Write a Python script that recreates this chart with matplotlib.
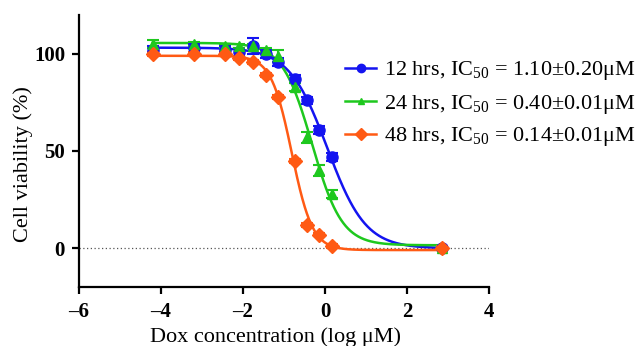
import numpy as np
import matplotlib
matplotlib.use("Agg")
import matplotlib.pyplot as plt
from matplotlib.lines import Line2D

# ---- data ----
log_conc = [-4.2, -3.2, -2.45, -2.1, -1.75, -1.45, -1.15, -0.73, -0.43, -0.14, 0.16, 2.85]
viab_12h = [102, 103, 102, 101, 104, 100, 96, 87, 76, 61, 47, 0]
err_12h = [2, 2, 2, 2, 4, 2, 2, 2, 2, 2, 2, 1]
viab_24h = [105, 105, 104, 104, 104, 102, 99, 83, 57, 40, 28, 0]
err_24h = [2, 1, 1, 1, 1, 1, 3, 2, 3, 3, 2, 1]
viab_48h = [100, 100, 100, 98, 96, 89, 78, 45, 12, 7, 1, 0]
err_48h = [1, 1, 1, 1, 1, 1, 1, 1, 1, 1, 1, 1]
labels = [r"12 hrs, IC$_{50}$ = 1.10±0.20μM",
          r"24 hrs, IC$_{50}$ = 0.40±0.01μM",
          r"48 hrs, IC$_{50}$ = 0.14±0.01μM"]
colors = ["#1414F0", "#1EC81E", "#FF5A14"]
markers = ["o", "^", "D"]
x_ticks = [-6, -4, -2, 0, 2, 4]
y_ticks = [0, 50, 100]


def model(p, x):
    bottom, top, logic50, hill = p
    return bottom + (top - bottom) / (1.0 + 10.0 ** ((x - logic50) * hill))


def fit4pl(x, y):
    x = np.asarray(x, float)
    y = np.asarray(y, float)
    p = np.array([0.0, y.max(), x[np.argmin(np.abs(y - 50))], 1.5])
    lam = 1e-2
    def cost(q):
        r = y - model(q, x)
        return float(r @ r)
    c = cost(p)
    for _ in range(500):
        r = y - model(p, x)
        J = np.zeros((len(x), 4))
        for k in range(4):
            d = np.zeros(4)
            d[k] = 1e-6 * max(1.0, abs(p[k]))
            J[:, k] = (model(p + d, x) - model(p - d, x)) / (2 * d[k])
        A = J.T @ J
        g = J.T @ r
        step = np.linalg.solve(A + lam * np.diag(np.diag(A) + 1e-9), g)
        pn = p + step
        cn = cost(pn)
        if cn < c:
            p, c = pn, cn
            lam *= 0.3
        else:
            lam *= 5
        if lam > 1e8:
            break
    return p


plt.rcParams["font.family"] = ["Liberation Serif", "DejaVu Serif"]
plt.rcParams["mathtext.fontset"] = "custom"
plt.rcParams["mathtext.rm"] = "Liberation Serif"
plt.rcParams["mathtext.it"] = "Liberation Serif:italic"

fig = plt.figure(figsize=(6.36, 3.46), dpi=100)
ax = fig.add_axes([79 / 636, 1 - 287 / 346, 410 / 636, 272 / 346])

ax.axhline(0, color="#555555", lw=0.9, ls=(0, (1, 2)), zorder=1)

series = [(viab_12h, err_12h), (viab_24h, err_24h), (viab_48h, err_48h)]
handles = []
xs = np.linspace(min(log_conc), max(log_conc), 600)
for (y, e), col, mk, lab in zip(series, colors, markers, labels):
    p = fit4pl(log_conc, y)
    ax.plot(xs, model(p, xs), color=col, lw=1.8, zorder=2)
    ms = 7 if mk == "D" else (8 if mk == "o" else 7.5)
    ax.errorbar(log_conc, y, yerr=e, fmt=mk, color=col, ms=ms, mec=col,
                capsize=4, elinewidth=1.5, capthick=1.5, zorder=3)
    handles.append(Line2D([], [], color=col, marker=mk, ms=6 if mk != "^" else 5, lw=1.8))

ax.set_xlim(-6, 4)
ax.set_ylim(-20, 120)
ax.set_xticks(x_ticks)
ax.set_xticklabels([str(t).replace("-", "–") for t in x_ticks])
ax.set_yticks(y_ticks)
for s in ["top", "right"]:
    ax.spines[s].set_visible(False)
for s in ["left", "bottom"]:
    ax.spines[s].set_linewidth(1.6)
ax.tick_params(width=1.6, length=5, labelsize=15)
ax.tick_params(axis="x", pad=5.5)
ax.tick_params(axis="y", pad=5)
for lbl in ax.get_xticklabels() + ax.get_yticklabels():
    lbl.set_fontweight("bold")
ax.set_xlabel("Dox concentration (log μM)", fontsize=16)
ax.set_ylabel("Cell viability (%)", fontsize=16)
ax.xaxis.set_label_coords((275 - 79) / 410, -(337 - 287) / 272, transform=ax.transAxes)
ax.xaxis.label.set_va("center")
ax.yaxis.set_label_coords(-(79 - 23) / 410, (287 - 164) / 272, transform=ax.transAxes)
ax.yaxis.label.set_va("center")

fig.legend(handles, labels, loc="center left", bbox_to_anchor=(345 / 636, 1 - 104 / 346),
           frameon=False, fontsize=16, handlelength=1.4, handletextpad=0.35,
           labelspacing=0.45, borderpad=0, borderaxespad=0)

fig.savefig("out.png", dpi=100)
